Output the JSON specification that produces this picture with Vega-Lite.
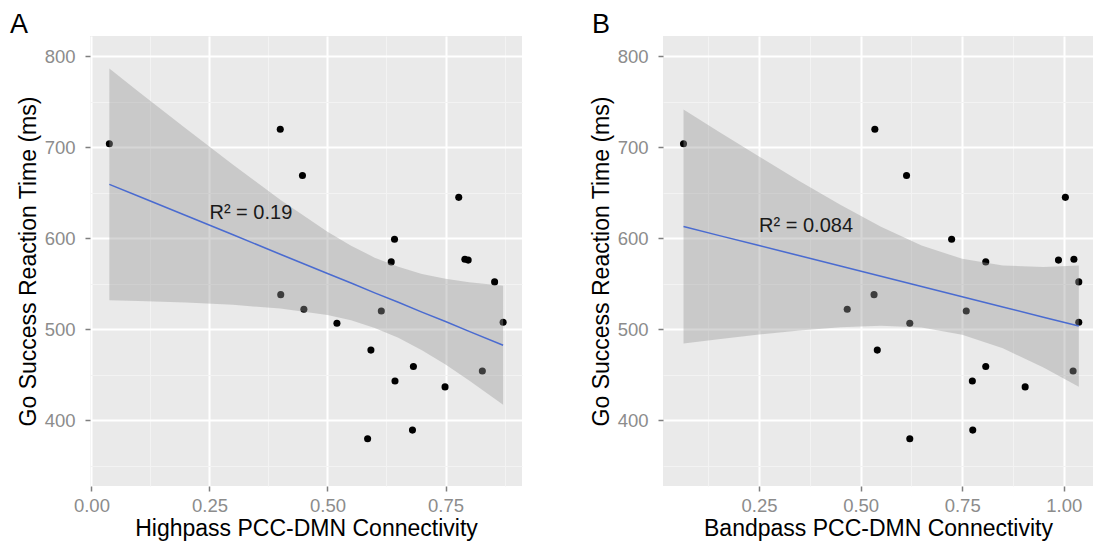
{
  "$schema": "https://vega.github.io/schema/vega-lite/v6.json",
  "background": "white",
  "padding": {"left": 10, "top": 10, "right": 0, "bottom": 0},
  "spacing": 68,
  "config": {
    "font": "Liberation Sans",
    "view": {"fill": "#EAEAEA", "stroke": null},
    "axis": {
      "domain": false,
      "grid": true,
      "tickColor": "#7F7F7F",
      "tickWidth": 1.5,
      "tickSize": 5,
      "labelColor": "#8C8C8C",
      "labelFontSize": 18.5,
      "labelOverlap": false,
      "labelFlush": false,
      "labelBound": false,
      "titleFontSize": 23,
      "titleFontWeight": "normal",
      "titleColor": "#000000"
    },
    "axisY": {"minExtent": 46, "maxExtent": 46, "titlePadding": 4, "labelPadding": 10},
    "axisX": {"titlePadding": 3, "labelPadding": 5},
    "title": {"anchor": "start", "frame": "bounds", "fontSize": 27, "fontWeight": "normal", "color": "#000000", "offset": -2.5}
  },
  "datasets": {
    "pts": [
      {"hp": 0.038, "bp": 0.064, "rt": 704},
      {"hp": 0.400, "bp": 0.535, "rt": 720},
      {"hp": 0.447, "bp": 0.613, "rt": 669},
      {"hp": 0.778, "bp": 1.004, "rt": 645},
      {"hp": 0.642, "bp": 0.724, "rt": 599},
      {"hp": 0.635, "bp": 0.808, "rt": 574},
      {"hp": 0.791, "bp": 1.025, "rt": 577},
      {"hp": 0.798, "bp": 0.987, "rt": 576},
      {"hp": 0.854, "bp": 1.037, "rt": 552},
      {"hp": 0.401, "bp": 0.533, "rt": 538},
      {"hp": 0.450, "bp": 0.467, "rt": 522},
      {"hp": 0.614, "bp": 0.760, "rt": 520},
      {"hp": 0.520, "bp": 0.621, "rt": 506.5},
      {"hp": 0.872, "bp": 1.037, "rt": 507.6},
      {"hp": 0.592, "bp": 0.541, "rt": 477},
      {"hp": 0.682, "bp": 0.808, "rt": 459},
      {"hp": 0.828, "bp": 1.023, "rt": 454},
      {"hp": 0.643, "bp": 0.775, "rt": 443},
      {"hp": 0.749, "bp": 0.905, "rt": 436.5},
      {"hp": 0.585, "bp": 0.621, "rt": 379.5},
      {"hp": 0.680, "bp": 0.776, "rt": 389}
    ],
    "bandA": [
      {"x": 0.038, "fit": 659.3, "lo": 531.9, "hi": 786.7},
      {"x": 0.1, "fit": 646.2, "lo": 531.1, "hi": 761.3},
      {"x": 0.2, "fit": 625.0, "lo": 529.3, "hi": 720.7},
      {"x": 0.3, "fit": 603.8, "lo": 526.8, "hi": 680.8},
      {"x": 0.4, "fit": 582.5, "lo": 522.7, "hi": 642.3},
      {"x": 0.5, "fit": 561.3, "lo": 515.5, "hi": 607.1},
      {"x": 0.55, "fit": 550.8, "lo": 509.7, "hi": 591.9},
      {"x": 0.6, "fit": 540.0, "lo": 501.3, "hi": 578.7},
      {"x": 0.65, "fit": 529.6, "lo": 490.6, "hi": 568.6},
      {"x": 0.7, "fit": 518.8, "lo": 476.8, "hi": 560.8},
      {"x": 0.75, "fit": 508.4, "lo": 461.2, "hi": 555.6},
      {"x": 0.8, "fit": 497.6, "lo": 443.6, "hi": 551.6},
      {"x": 0.872, "fit": 482.4, "lo": 417.0, "hi": 547.8}
    ],
    "bandB": [
      {"x": 0.064, "fit": 612.9, "lo": 484.2, "hi": 741.6},
      {"x": 0.15, "fit": 603.2, "lo": 488.9, "hi": 717.5},
      {"x": 0.25, "fit": 592.0, "lo": 494.1, "hi": 689.9},
      {"x": 0.35, "fit": 580.7, "lo": 498.6, "hi": 662.8},
      {"x": 0.45, "fit": 569.5, "lo": 502.2, "hi": 636.8},
      {"x": 0.55, "fit": 558.2, "lo": 503.8, "hi": 612.6},
      {"x": 0.65, "fit": 547.0, "lo": 501.9, "hi": 592.1},
      {"x": 0.75, "fit": 535.7, "lo": 494.0, "hi": 577.4},
      {"x": 0.85, "fit": 524.5, "lo": 478.9, "hi": 570.1},
      {"x": 0.95, "fit": 513.2, "lo": 457.9, "hi": 568.5},
      {"x": 1.037, "fit": 503.4, "lo": 436.8, "hi": 570.0}
    ],
    "labA": [{"x": 0.25, "y": 621, "label": "R² = 0.19"}],
    "labB": [{"x": 0.25, "y": 607, "label": "R² = 0.084"}]
  },
  "hconcat": [
    {
      "width": 432,
      "height": 450,
      "title": {"text": "A", "dx": -7},
      "layer": [
        {
          "data": {"name": "pts"},
          "mark": {"type": "circle", "size": 50, "color": "#000000", "opacity": 1},
          "encoding": {
            "x": {"field": "hp", "type": "quantitative", "scale": {"domain": [-0.003, 0.912], "nice": false, "zero": false},
              "axis": {"title": "Highpass PCC-DMN Connectivity", "values": [0, 0.125, 0.25, 0.375, 0.5, 0.625, 0.75, 0.875], "format": ".2f",
                "labelExpr": "abs(datum.value*4 - round(datum.value*4)) < 0.001 ? format(datum.value, '.2f') : ''",
                "gridColor": {"condition": {"test": "abs(datum.value*4 - round(datum.value*4)) < 0.001", "value": "#FFFFFF"}, "value": "#F3F3F3"},
                "gridWidth": {"condition": {"test": "abs(datum.value*4 - round(datum.value*4)) < 0.001", "value": 2}, "value": 1},
                "tickOpacity": {"condition": {"test": "abs(datum.value*4 - round(datum.value*4)) < 0.001", "value": 1}, "value": 0}}},
            "y": {"field": "rt", "type": "quantitative", "scale": {"domain": [327.5, 822.5], "nice": false, "zero": false},
              "axis": {"title": "Go Success Reaction Time (ms)", "values": [350, 400, 450, 500, 550, 600, 650, 700, 750, 800],
                "labelExpr": "datum.value % 100 === 0 ? datum.label : ''",
                "gridColor": {"condition": {"test": "datum.value % 100 === 0", "value": "#FFFFFF"}, "value": "#F3F3F3"},
                "gridWidth": {"condition": {"test": "datum.value % 100 === 0", "value": 2}, "value": 1},
                "tickOpacity": {"condition": {"test": "datum.value % 100 === 0", "value": 1}, "value": 0}}}
          }
        },
        {
          "data": {"name": "bandA"},
          "mark": {"type": "area", "color": "#999999", "opacity": 0.4},
          "encoding": {
            "x": {"field": "x", "type": "quantitative"},
            "y": {"field": "lo", "type": "quantitative"},
            "y2": {"field": "hi"}
          }
        },
        {
          "data": {"name": "bandA"},
          "mark": {"type": "line", "color": "#4A6BD0", "strokeWidth": 1.5},
          "encoding": {
            "x": {"field": "x", "type": "quantitative"},
            "y": {"field": "fit", "type": "quantitative"}
          }
        },
        {
          "data": {"name": "labA"},
          "mark": {"type": "text", "align": "left", "baseline": "alphabetic", "fontSize": 20, "color": "#1A1A1A"},
          "encoding": {
            "x": {"field": "x", "type": "quantitative"},
            "y": {"field": "y", "type": "quantitative"},
            "text": {"field": "label"}
          }
        }
      ]
    },
    {
      "width": 430,
      "height": 450,
      "title": {"text": "B", "dx": 2},
      "layer": [
        {
          "data": {"name": "pts"},
          "mark": {"type": "circle", "size": 50, "color": "#000000", "opacity": 1},
          "encoding": {
            "x": {"field": "bp", "type": "quantitative", "scale": {"domain": [0.0135, 1.072], "nice": false, "zero": false},
              "axis": {"title": "Bandpass PCC-DMN Connectivity", "values": [0.125, 0.25, 0.375, 0.5, 0.625, 0.75, 0.875, 1.0], "format": ".2f",
                "labelExpr": "abs(datum.value*4 - round(datum.value*4)) < 0.001 ? format(datum.value, '.2f') : ''",
                "gridColor": {"condition": {"test": "abs(datum.value*4 - round(datum.value*4)) < 0.001", "value": "#FFFFFF"}, "value": "#F3F3F3"},
                "gridWidth": {"condition": {"test": "abs(datum.value*4 - round(datum.value*4)) < 0.001", "value": 2}, "value": 1},
                "tickOpacity": {"condition": {"test": "abs(datum.value*4 - round(datum.value*4)) < 0.001", "value": 1}, "value": 0}}},
            "y": {"field": "rt", "type": "quantitative", "scale": {"domain": [327.5, 822.5], "nice": false, "zero": false},
              "axis": {"title": "Go Success Reaction Time (ms)", "values": [350, 400, 450, 500, 550, 600, 650, 700, 750, 800],
                "labelExpr": "datum.value % 100 === 0 ? datum.label : ''",
                "gridColor": {"condition": {"test": "datum.value % 100 === 0", "value": "#FFFFFF"}, "value": "#F3F3F3"},
                "gridWidth": {"condition": {"test": "datum.value % 100 === 0", "value": 2}, "value": 1},
                "tickOpacity": {"condition": {"test": "datum.value % 100 === 0", "value": 1}, "value": 0}}}
          }
        },
        {
          "data": {"name": "bandB"},
          "mark": {"type": "area", "color": "#999999", "opacity": 0.4},
          "encoding": {
            "x": {"field": "x", "type": "quantitative"},
            "y": {"field": "lo", "type": "quantitative"},
            "y2": {"field": "hi"}
          }
        },
        {
          "data": {"name": "bandB"},
          "mark": {"type": "line", "color": "#4A6BD0", "strokeWidth": 1.5},
          "encoding": {
            "x": {"field": "x", "type": "quantitative"},
            "y": {"field": "fit", "type": "quantitative"}
          }
        },
        {
          "data": {"name": "labB"},
          "mark": {"type": "text", "align": "left", "baseline": "alphabetic", "fontSize": 20, "color": "#1A1A1A"},
          "encoding": {
            "x": {"field": "x", "type": "quantitative"},
            "y": {"field": "y", "type": "quantitative"},
            "text": {"field": "label"}
          }
        }
      ]
    }
  ]
}
